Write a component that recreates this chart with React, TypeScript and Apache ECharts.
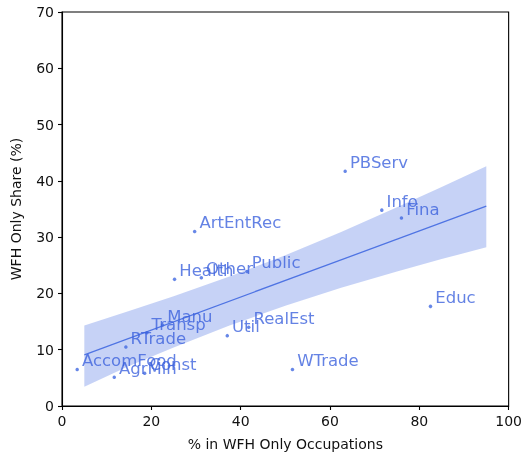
import React, { useEffect, useRef } from "react";
import * as echarts from "echarts";

const sectors = ["AccomFood", "AgrMin", "Const", "RTrade", "Transp", "Manu", "Util", "RealEst", "WTrade", "ArtEntRec", "Health", "Other", "Public", "PBServ", "Info", "Fina", "Educ"];
const wfhOccShare = [3.4, 11.7, 18.5, 14.3, 19.0, 22.5, 37.0, 41.8, 51.6, 29.7, 25.2, 31.2, 41.4, 63.4, 71.6, 76.0, 82.5];
const wfhOnlyShare = [6.5, 5.1, 5.8, 10.5, 13.0, 14.4, 12.5, 14.0, 6.5, 31.0, 22.5, 22.8, 23.9, 41.7, 34.8, 33.4, 17.7];

const fitX = [5, 95];
const fitY = [9.1, 35.5];

const bandX = [5, 15, 25, 37.5, 50, 62.5, 75, 85, 95];
const bandLow = [3.4, 7.1, 10.4, 14.3, 17.8, 21.0, 23.9, 26.1, 28.2];
const bandHigh = [14.3, 16.9, 19.5, 23.0, 26.8, 30.9, 35.3, 38.9, 42.6];

const xTicks = [0, 20, 40, 60, 80, 100];
const yTicks = [0, 10, 20, 30, 40, 50, 60, 70];

const BLUE = "#4169E1";
const FONT = "DejaVu Sans";

export default function App() {
  const ref = useRef<HTMLDivElement>(null);
  useEffect(() => {
    if (!ref.current) return;
    const chart = echarts.init(ref.current, null, { renderer: "svg" });
    const points = sectors.map((s, i) => ({ name: s, value: [wfhOccShare[i], wfhOnlyShare[i]] }));
    const axisCommon = {
      axisLine: { show: true, onZero: false, lineStyle: { color: "#000", width: 1.1 } },
      axisTick: { show: true, length: 4, lineStyle: { color: "#000", width: 1.1 } },
      splitLine: { show: false },
      nameTextStyle: { fontFamily: FONT, fontSize: 14, color: "#111" },
    };
    chart.setOption({
      animation: false,
      grid: { left: 62, right: 14, top: 12, bottom: 47, show: true, borderColor: "#000", borderWidth: 1.1, backgroundColor: "transparent" },
      xAxis: {
        type: "value",
        min: xTicks[0],
        max: xTicks[xTicks.length - 1],
        interval: 20,
        name: "% in WFH Only Occupations",
        nameLocation: "middle",
        nameGap: 31,
        ...axisCommon,
        axisLabel: { fontFamily: FONT, fontSize: 14, color: "#111", margin: 8 },
      },
      yAxis: {
        type: "value",
        min: yTicks[0],
        max: yTicks[yTicks.length - 1],
        interval: 10,
        name: "WFH Only Share (%)",
        nameLocation: "middle",
        nameGap: 39,
        ...axisCommon,
        axisLabel: { fontFamily: FONT, fontSize: 14, color: "#111", margin: 8 },
      },
      series: [
        {
          type: "custom",
          silent: true,
          z: 1,
          data: [0],
          renderItem: (params: any, api: any) => {
            const pts: number[][] = [];
            for (let i = 0; i < bandX.length; i++) pts.push(api.coord([bandX[i], bandHigh[i]]));
            for (let i = bandX.length - 1; i >= 0; i--) pts.push(api.coord([bandX[i], bandLow[i]]));
            return { type: "polygon", shape: { points: pts, smooth: 0 }, style: { fill: "rgba(65,105,225,0.3)", stroke: "none" } };
          },
        },
        {
          type: "line",
          z: 2,
          data: fitX.map((x, i) => [x, fitY[i]]),
          symbol: "none",
          lineStyle: { color: BLUE, width: 1.3, opacity: 0.9 },
        },
        {
          type: "scatter",
          z: 3,
          data: points,
          symbolSize: 3.5,
          itemStyle: { color: BLUE },
          label: {
            show: true,
            formatter: "{b}",
            position: [6.5, -7],
            align: "left",
            verticalAlign: "middle",
            fontFamily: FONT,
            fontSize: 16.5,
            color: "#3d63dd",
          },
        },
      ],
    });
    return () => chart.dispose();
  }, []);
  return <div ref={ref} style={{ position: "fixed", left: 0, top: 0, width: 525, height: 456 }} />;
}
